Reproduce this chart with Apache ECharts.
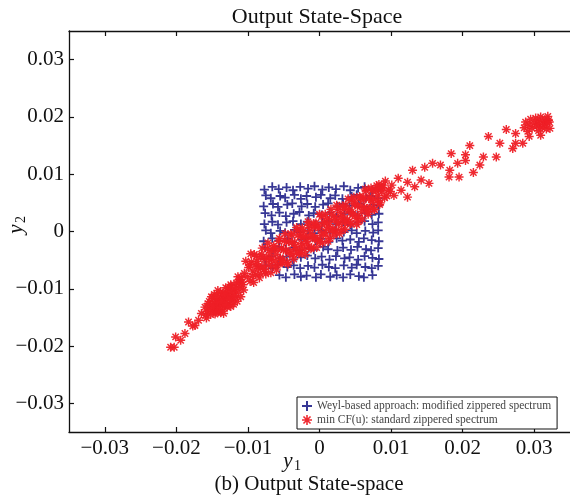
<!DOCTYPE html>
<html>
<head>
<meta charset="utf-8">
<script src="https://cdn.jsdelivr.net/npm/echarts@6/dist/echarts.min.js"></script>
<style>
  html, body { margin: 0; padding: 0; background: #fff; }
  #chart { width: 570px; height: 499px; }
</style>
</head>
<body>
<div id="chart"></div>
<script>
// tick positions, both axes
var tickValues = [-0.03, -0.02, -0.01, 0, 0.01, 0.02, 0.03];

// Weyl-based approach: modified zippered spectrum (blue +)
var weylPoints = [
  [-0.0077,0.0073],[-0.0066,0.0078],[-0.0057,0.0074],[-0.0046,0.0077],[-0.0037,0.0072],[-0.0027,0.0078],[-0.0016,0.0075],[-0.0007,0.0079],[0.0004,0.0073],[0.0013,0.0077],[0.0023,0.0074],[0.0034,0.0079],[0.0043,0.0072],[0.0054,0.0076],[0.0063,0.0078],[0.0074,0.0073],[0.0083,0.0077],
  [-0.0075,0.0063],[-0.0068,0.0058],[-0.0055,0.0062],[-0.0048,0.0059],[-0.0035,0.0064],[-0.0026,0.0057],[-0.0018,0.0062],[-0.0005,0.0060],[0.0002,0.0064],[0.0015,0.0058],[0.0022,0.0063],[0.0032,0.0057],[0.0045,0.0061],[0.0052,0.0064],[0.0065,0.0059],[0.0072,0.0062],[0.0082,0.0058],
  [-0.0078,0.0044],[-0.0065,0.0048],[-0.0058,0.0043],[-0.0045,0.0047],[-0.0038,0.0049],[-0.0025,0.0044],[-0.0017,0.0048],[-0.0006,0.0043],[0.0005,0.0047],[0.0012,0.0049],[0.0025,0.0044],[0.0033,0.0048],[0.0042,0.0045],[0.0055,0.0049],[0.0062,0.0043],[0.0075,0.0047],[0.0082,0.0045],
  [-0.0076,0.0032],[-0.0067,0.0028],[-0.0056,0.0033],[-0.0047,0.0027],[-0.0036,0.0031],[-0.0028,0.0034],[-0.0015,0.0028],[-0.0008,0.0032],[0.0003,0.0029],[0.0014,0.0033],[0.0024,0.0027],[0.0035,0.0031],[0.0044,0.0034],[0.0053,0.0028],[0.0064,0.0032],[0.0073,0.0029],[0.0083,0.0031],
  [-0.0077,0.0013],[-0.0066,0.0017],[-0.0058,0.0012],[-0.0046,0.0016],[-0.0037,0.0018],[-0.0026,0.0013],[-0.0017,0.0017],[-0.0006,0.0012],[0.0004,0.0016],[0.0013,0.0018],[0.0023,0.0013],[0.0033,0.0017],[0.0043,0.0012],[0.0054,0.0016],[0.0063,0.0018],[0.0074,0.0013],[0.0082,0.0016],
  [-0.0075,0.0002],[-0.0068,-0.0003],[-0.0055,0.0001],[-0.0048,-0.0002],[-0.0035,0.0003],[-0.0027,-0.0001],[-0.0016,0.0002],[-0.0007,-0.0003],[0.0003,0.0001],[0.0015,-0.0002],[0.0022,0.0003],[0.0034,-0.0001],[0.0045,0.0002],[0.0052,-0.0003],[0.0064,0.0001],[0.0075,-0.0002],[0.0082,0.0002],
  [-0.0078,-0.0017],[-0.0066,-0.0012],[-0.0057,-0.0016],[-0.0045,-0.0013],[-0.0038,-0.0018],[-0.0025,-0.0014],[-0.0018,-0.0011],[-0.0005,-0.0016],[0.0002,-0.0013],[0.0013,-0.0018],[0.0024,-0.0012],[0.0032,-0.0016],[0.0043,-0.0014],[0.0055,-0.0018],[0.0062,-0.0012],[0.0073,-0.0015],[0.0083,-0.0017],
  [-0.0076,-0.0028],[-0.0065,-0.0033],[-0.0056,-0.0027],[-0.0047,-0.0031],[-0.0036,-0.0028],[-0.0028,-0.0033],[-0.0015,-0.0029],[-0.0008,-0.0032],[0.0005,-0.0027],[0.0012,-0.0031],[0.0025,-0.0033],[0.0033,-0.0028],[0.0044,-0.0032],[0.0053,-0.0027],[0.0065,-0.0031],[0.0072,-0.0033],[0.0082,-0.0029],
  [-0.0077,-0.0048],[-0.0067,-0.0043],[-0.0055,-0.0047],[-0.0046,-0.0044],[-0.0037,-0.0049],[-0.0026,-0.0045],[-0.0017,-0.0042],[-0.0006,-0.0047],[0.0003,-0.0044],[0.0014,-0.0049],[0.0023,-0.0043],[0.0035,-0.0047],[0.0042,-0.0045],[0.0054,-0.0049],[0.0063,-0.0043],[0.0074,-0.0046],[0.0083,-0.0048],
  [-0.0075,-0.0059],[-0.0066,-0.0064],[-0.0058,-0.0058],[-0.0045,-0.0062],[-0.0036,-0.0059],[-0.0027,-0.0064],[-0.0016,-0.0060],[-0.0007,-0.0063],[0.0004,-0.0058],[0.0013,-0.0062],[0.0022,-0.0064],[0.0034,-0.0059],[0.0045,-0.0063],[0.0052,-0.0058],[0.0064,-0.0062],[0.0073,-0.0064],[0.0082,-0.0060],
  [-0.0056,-0.0076],[-0.0047,-0.0080],[-0.0035,-0.0075],[-0.0026,-0.0079],[-0.0018,-0.0077],[-0.0005,-0.0080],[0.0002,-0.0075],[0.0015,-0.0079],[0.0024,-0.0076],[0.0033,-0.0080],[0.0043,-0.0075],[0.0055,-0.0078],[0.0062,-0.0080],[0.0074,-0.0076]
];

// min CF(u): standard zippered spectrum (red *)
var minCfTail = [
  [-0.0208,-0.0202],[-0.0203,-0.0202],[-0.0201,-0.0184],[-0.0194,-0.0190],[-0.0188,-0.0178],[-0.0183,-0.0158],
  [-0.0177,-0.0165],[-0.0174,-0.0164],[-0.0169,-0.0155],[-0.0165,-0.0143],[-0.0160,-0.0132],[-0.0158,-0.0151]
];
var minCfBlob = [
  [-0.0157,-0.0140],[-0.0155,-0.0132],[-0.0154,-0.0122],[-0.0152,-0.0145],[-0.0150,-0.0128],[-0.0149,-0.0117],
  [-0.0148,-0.0136],[-0.0147,-0.0110],[-0.0146,-0.0125],[-0.0145,-0.0141],[-0.0144,-0.0131],[-0.0143,-0.0119],
  [-0.0142,-0.0103],[-0.0141,-0.0136],[-0.0140,-0.0126],[-0.0139,-0.0113],[-0.0138,-0.0142],[-0.0137,-0.0121],
  [-0.0136,-0.0130],[-0.0135,-0.0107],[-0.0134,-0.0117],[-0.0133,-0.0134],[-0.0132,-0.0125],[-0.0131,-0.0098],
  [-0.0130,-0.0111],[-0.0129,-0.0132],[-0.0128,-0.0119],[-0.0127,-0.0104],[-0.0126,-0.0127],[-0.0125,-0.0113],
  [-0.0124,-0.0093],[-0.0123,-0.0095],[-0.0122,-0.0120],[-0.0121,-0.0108],[-0.0120,-0.0127],[-0.0118,-0.0101],
  [-0.0117,-0.0115],[-0.0116,-0.0090],[-0.0115,-0.0122],[-0.0114,-0.0079],[-0.0113,-0.0106],[-0.0112,-0.0084],
  [-0.0111,-0.0097],[-0.0110,-0.0114],[-0.0108,-0.0088],[-0.0106,-0.0102],[-0.0105,-0.0073],
  [-0.0159,-0.0146],[-0.0156,-0.0126],[-0.0153,-0.0137],[-0.0151,-0.0114],[-0.0148,-0.0129],[-0.0146,-0.0144],
  [-0.0144,-0.0112],[-0.0142,-0.0124],[-0.0140,-0.0139],[-0.0138,-0.0106],[-0.0136,-0.0122],[-0.0134,-0.0143],
  [-0.0132,-0.0110],[-0.0130,-0.0128],[-0.0128,-0.0099],[-0.0126,-0.0116],[-0.0124,-0.0131],[-0.0122,-0.0102],
  [-0.0119,-0.0112],[-0.0116,-0.0098],[-0.0113,-0.0089],[-0.0109,-0.0080],[-0.0107,-0.0093]
];
var minCfBand = [
  [-0.0103,-0.0052],[-0.0101,-0.0079],[-0.0099,-0.0063],[-0.0097,-0.0087],[-0.0095,-0.0053],[-0.0093,-0.0069],
  [-0.0091,-0.0040],[-0.0089,-0.0075],[-0.0087,-0.0052],[-0.0085,-0.0061],[-0.0083,-0.0074],[-0.0081,-0.0040],
  [-0.0079,-0.0061],[-0.0077,-0.0049],[-0.0075,-0.0074],[-0.0073,-0.0030],[-0.0071,-0.0059],[-0.0069,-0.0037],
  [-0.0067,-0.0049],[-0.0065,-0.0061],[-0.0063,-0.0029],[-0.0061,-0.0040],[-0.0059,-0.0059],[-0.0057,-0.0017],
  [-0.0055,-0.0046],[-0.0053,-0.0029],[-0.0051,-0.0048],[-0.0049,-0.0016],[-0.0047,-0.0033],[-0.0045,-0.0054],
  [-0.0043,-0.0018],[-0.0041,-0.0034],[-0.0039,-0.0006],[-0.0037,-0.0040],[-0.0035,-0.0019],[-0.0033,-0.0031],
  [-0.0031,0.0003],[-0.0029,-0.0039],[-0.0027,-0.0009],[-0.0025,-0.0021],[-0.0023,0.0000],[-0.0021,-0.0031],
  [-0.0019,-0.0009],[-0.0017,-0.0022],[-0.0015,0.0011],[-0.0013,-0.0010],[-0.0011,-0.0028],[-0.0009,0.0007],
  [-0.0007,-0.0011],[-0.0005,0.0015],[-0.0003,-0.0015],[-0.0001,0.0006],[0.0001,-0.0018],[0.0003,0.0026],
  [0.0005,-0.0002],[0.0007,0.0014],[0.0009,-0.0006],[0.0011,0.0023],[0.0013,0.0008],[0.0015,-0.0012],
  [0.0017,0.0030],[0.0019,0.0005],[0.0021,0.0021],[0.0023,0.0001],[0.0025,0.0039],[0.0027,0.0016],
  [0.0029,0.0033],[0.0031,0.0003],[0.0033,0.0027],[0.0035,0.0015],[0.0037,0.0046],[0.0039,0.0021],
  [0.0041,0.0038],[0.0043,0.0014],[0.0045,0.0055],[0.0047,0.0032],[0.0049,0.0049],[0.0051,0.0023],
  [0.0053,0.0044],[0.0055,0.0018],[0.0057,0.0059],[0.0059,0.0035],[0.0061,0.0055],[0.0063,0.0042],
  [0.0065,0.0071],[0.0067,0.0034],[0.0069,0.0057],[0.0071,0.0042],[0.0073,0.0072],[0.0075,0.0057],
  [0.0077,0.0038],[0.0079,0.0071],[0.0081,0.0054],[0.0083,0.0082],[0.0085,0.0050],[0.0087,0.0069],
  [0.0089,0.0081],[0.0091,0.0059],
  [-0.0098,-0.0058],[-0.0094,-0.0078],[-0.0090,-0.0058],[-0.0086,-0.0064],[-0.0082,-0.0044],[-0.0078,-0.0066],
  [-0.0074,-0.0045],[-0.0070,-0.0049],[-0.0066,-0.0030],[-0.0062,-0.0051],[-0.0058,-0.0032],[-0.0054,-0.0054],
  [-0.0050,-0.0032],[-0.0046,-0.0018],[-0.0042,-0.0039],[-0.0038,-0.0019],[-0.0034,-0.0026],[-0.0030,-0.0006],
  [-0.0026,-0.0027],[-0.0022,-0.0009],[-0.0018,-0.0018],[-0.0014,0.0002],[-0.0010,-0.0006],[-0.0006,-0.0013],
  [-0.0002,0.0009],[0.0002,-0.0007],[0.0006,0.0016],[0.0010,0.0004],[0.0014,0.0016],[0.0018,0.0001],
  [0.0022,0.0025],[0.0026,0.0013],[0.0030,0.0024],[0.0034,0.0039],[0.0038,0.0018],[0.0042,0.0036],
  [0.0046,0.0029],[0.0050,0.0047],[0.0054,0.0027],[0.0058,0.0045],[0.0062,0.0060],[0.0066,0.0040],
  [0.0070,0.0060],[0.0074,0.0051],[0.0078,0.0073],[0.0082,0.0063],[0.0086,0.0075],
  [-0.0096,-0.0039],[-0.0092,-0.0089],[-0.0088,-0.0043],[-0.0084,-0.0081],[-0.0080,-0.0029],[-0.0076,-0.0070],
  [-0.0072,-0.0020],[-0.0068,-0.0072],[-0.0064,-0.0025],[-0.0060,-0.0067],[-0.0056,-0.0012],[-0.0052,-0.0055],
  [-0.0048,-0.0004],[-0.0044,-0.0057],[-0.0040,-0.0004],[-0.0036,-0.0048],[-0.0032,0.0007],[-0.0028,-0.0037],
  [-0.0024,0.0006],[-0.0020,-0.0040],[-0.0016,0.0017],[-0.0012,-0.0030],[-0.0008,0.0014],[-0.0004,-0.0028],
  [0.0000,0.0030],[0.0004,-0.0020],[0.0008,0.0030],[0.0012,-0.0017],[0.0016,0.0039],[0.0020,-0.0006],
  [0.0024,0.0046],[0.0028,-0.0004],[0.0032,0.0045],[0.0036,0.0004],[0.0040,0.0057],[0.0044,0.0014],
  [0.0048,0.0060],[0.0052,0.0012],[0.0056,0.0061],[0.0060,0.0022],[0.0064,0.0074],[0.0068,0.0030],
  [0.0072,0.0076],[0.0076,0.0039],[0.0080,0.0080],[0.0084,0.0047],[0.0088,0.0077],[0.0092,0.0088],
  [0.0094,0.0062]
];
var minCfUpper = [
  [0.0096,0.0072],[0.0099,0.0070],[0.0101,0.0081],[0.0104,0.0063],[0.0110,0.0093],[0.0114,0.0072],
  [0.0123,0.0086],[0.0123,0.0060],[0.0130,0.0107],[0.0133,0.0078],[0.0142,0.0090],[0.0147,0.0112],
  [0.0153,0.0084],[0.0158,0.0119],[0.0169,0.0116],[0.0181,0.0095],[0.0182,0.0107],[0.0184,0.0136],
  [0.0193,0.0119],[0.0195,0.0095],[0.0204,0.0124],[0.0204,0.0134],[0.0210,0.0150],[0.0215,0.0103],
  [0.0224,0.0116],[0.0229,0.0130],[0.0236,0.0166],[0.0247,0.0130],[0.0252,0.0154],[0.0261,0.0178],
  [0.0270,0.0145],[0.0274,0.0154],[0.0274,0.0171],[0.0284,0.0154],[0.0293,0.0166],[0.0309,0.0168]
];
var minCfCorner = [
  [0.0286,0.0181],[0.0288,0.0191],[0.0291,0.0175],[0.0293,0.0186],[0.0295,0.0196],[0.0297,0.0180],
  [0.0300,0.0189],[0.0302,0.0198],[0.0303,0.0183],[0.0305,0.0193],[0.0306,0.0176],[0.0307,0.0187],
  [0.0309,0.0200],[0.0311,0.0181],[0.0312,0.0192],[0.0314,0.0186],[0.0315,0.0196],[0.0317,0.0179],
  [0.0318,0.0190],[0.0320,0.0194],[0.0321,0.0191],[0.0322,0.0180],[0.0319,0.0201]
];
var minCfPoints = minCfTail.concat(minCfBlob, minCfBand, minCfUpper, minCfCorner);

var serif = '"Liberation Serif", "DejaVu Serif", serif';
var plusPath = 'path://M-1,-5L1,-5L1,-1L5,-1L5,1L1,1L1,5L-1,5L-1,1L-5,1L-5,-1L-1,-1Z';
var starPath = 'path://M-5,-0.8L5,-0.8L5,0.8L-5,0.8Z M-0.8,-5L0.8,-5L0.8,5L-0.8,5Z ' +
  'M-4.1,-2.97L-2.97,-4.1L4.1,2.97L2.97,4.1Z M4.1,-2.97L-2.97,4.1L-4.1,2.97L2.97,-4.1Z';

function fmt(v) {
  if (Math.abs(v) < 1e-9) return '0';
  return (v < 0 ? '\u2212' : '') + Math.abs(v).toFixed(2);
}

var chart = echarts.init(document.getElementById('chart'), null, { renderer: 'canvas' });

var axisLine = { show: true, onZero: false, lineStyle: { color: '#111', width: 1.3 } };
var axisTick = { show: true, inside: true, length: 5, customValues: tickValues, lineStyle: { color: '#111', width: 1.2 } };

var option = {
  animation: false,
  backgroundColor: '#fff',
  title: {
    text: 'Output State-Space',
    left: 312, top: 1, textAlign: 'center',
    textStyle: { fontFamily: serif, fontWeight: 'normal', fontSize: 22, color: '#111' }
  },
  grid: { left: 69, top: 31, width: 509, height: 401 },
  xAxis: [{
    type: 'value', min: -0.035, max: 0.035, position: 'bottom',
    axisLine: axisLine, axisTick: axisTick, splitLine: { show: false },
    axisLabel: { customValues: tickValues, formatter: fmt, margin: 6, fontFamily: serif, fontSize: 21, color: '#111' }
  }, {
    type: 'value', min: -0.035, max: 0.035, position: 'top',
    axisLine: axisLine, axisTick: axisTick, splitLine: { show: false },
    axisLabel: { show: false }
  }],
  yAxis: [{
    type: 'value', min: -0.035, max: 0.035, position: 'left',
    axisLine: axisLine, axisTick: axisTick, splitLine: { show: false },
    axisLabel: { customValues: tickValues, formatter: fmt, margin: 5, fontFamily: serif, fontSize: 21, color: '#111' }
  }],
  legend: {
    orient: 'vertical', left: 297, top: 397,
    padding: [3, 6, 3, 5], itemGap: 2, itemWidth: 10, itemHeight: 10,
    backgroundColor: '#fff', borderColor: '#111', borderWidth: 1, borderRadius: 0,
    textStyle: { fontFamily: serif, fontSize: 11.5, color: '#444' },
    data: ['Weyl-based approach: modified zippered spectrum', 'min CF(u): standard zippered spectrum']
  },
  series: [{
    name: 'Weyl-based approach: modified zippered spectrum',
    type: 'scatter', symbol: plusPath, symbolSize: 9,
    itemStyle: { color: '#2c2c8f', opacity: 0.95 },
    data: weylPoints
  }, {
    name: 'min CF(u): standard zippered spectrum',
    type: 'scatter', symbol: starPath, symbolSize: 9,
    itemStyle: { color: '#ee1f26', opacity: 0.95 },
    data: minCfPoints
  }],
  graphic: [
    { type: 'text', x: 288, y: 461, style: { text: 'y', font: 'italic 21px ' + serif, fill: '#111', textAlign: 'center', textVerticalAlign: 'middle' } },
    { type: 'text', x: 294, y: 466, style: { text: '1', font: '14px ' + serif, fill: '#111', textAlign: 'left', textVerticalAlign: 'middle' } },
    {
      type: 'group', x: 16, y: 226, rotation: Math.PI / 2,
      children: [
        { type: 'text', x: -3, y: 0, style: { text: 'y', font: 'italic 21px ' + serif, fill: '#111', textAlign: 'center', textVerticalAlign: 'middle' } },
        { type: 'text', x: 3, y: 5, style: { text: '2', font: '14px ' + serif, fill: '#111', textAlign: 'left', textVerticalAlign: 'middle' } }
      ]
    },
    { type: 'text', x: 309, y: 484, style: { text: '(b) Output State-space', font: '21px ' + serif, fill: '#111', textAlign: 'center', textVerticalAlign: 'middle' } }
  ]
};

chart.setOption(option);
</script>
</body>
</html>
